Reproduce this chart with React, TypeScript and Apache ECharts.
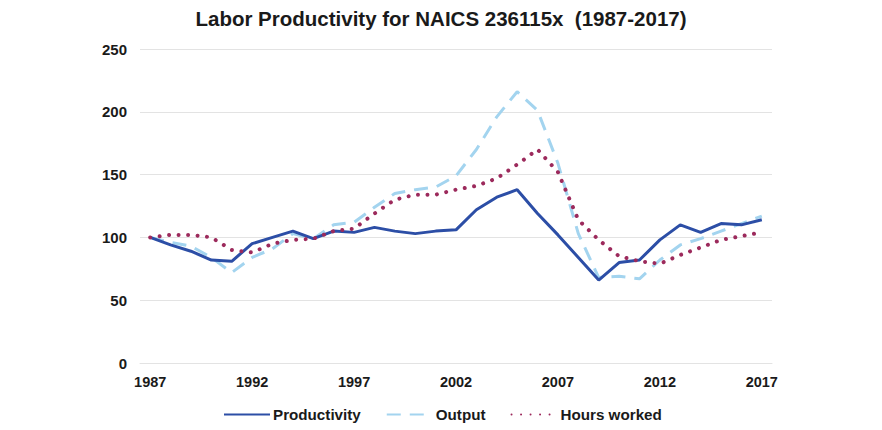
import React, { useEffect, useRef } from "react";
import * as echarts from "echarts";

const years: string[] = [];
for (let y = 1987; y <= 2017; y++) years.push(String(y));

const productivity = [100, 94, 89, 82, 81, 95, 100, 105, 99, 105, 104, 108, 105, 103, 105, 106, 122, 132, 138, 119, 102, 84, 66, 80, 82, 98, 110, 104, 111, 110, 114];
const output = [100, 96, 93, 84, 72, 84, 91, 103, 99, 110, 112, 124, 135, 138, 140, 149, 170, 196, 216, 201, 159, 103, 68, 69, 67, 82, 94, 99, 105, 111, 117];
const hoursWorked = [100, 102, 102, 100, 90, 88, 95, 98, 99, 105, 107, 119, 130, 134, 134, 138, 141, 147, 158, 170, 152, 114, 98, 85, 81, 79, 86, 92, 98, 101, 104];

const yTicks = { min: 0, max: 250, interval: 50 };

export default function App() {
  const ref = useRef<HTMLDivElement>(null);
  useEffect(() => {
    const chart = echarts.init(ref.current!, null, { renderer: "svg" });
    const font = "Liberation Sans, Arial, sans-serif";
    chart.setOption({
      animation: false,
      backgroundColor: "#ffffff",
      title: {
        text: "Labor Productivity for NAICS 236115x  (1987-2017)",
        left: "center",
        top: 0,
        padding: 0,
        textStyle: { fontFamily: font, fontWeight: "bold", fontSize: 20.5, color: "#1a1a1a" },
      },
      legend: {
        bottom: 3,
        left: 210,
        itemWidth: 46,
        itemHeight: 10,
        itemGap: 25,
        itemStyle: { opacity: 0 },
        textStyle: { fontFamily: font, fontWeight: "bold", fontSize: 15.2, color: "#1a1a1a", padding: [0, 0, 0, -2] },
        data: ["Productivity", "Output", "Hours worked"],
      },
      grid: { left: 132, right: 102, top: 41, bottom: 67, containLabel: false },
      xAxis: {
        type: "category",
        data: years,
        boundaryGap: true,
        axisLine: { show: true, lineStyle: { color: "#e3e3e3", width: 1 } },
        axisTick: { show: false },
        axisLabel: {
          interval: 4,
          fontFamily: font,
          fontWeight: "bold",
          fontSize: 14.5,
          color: "#1a1a1a",
          margin: 11,
        },
      },
      yAxis: {
        type: "value",
        min: yTicks.min,
        max: yTicks.max,
        interval: yTicks.interval,
        axisLine: { show: false },
        axisTick: { show: false },
        splitLine: { lineStyle: { color: "#e3e3e3", width: 1 } },
        axisLabel: { fontFamily: font, fontWeight: "bold", fontSize: 15, color: "#1a1a1a", margin: 13 },
      },
      series: [
        {
          name: "Productivity",
          type: "line",
          data: productivity,
          symbol: "none",
          color: "#2c4ea6",
          lineStyle: { width: 3, color: "#2c4ea6" },
          z: 3,
        },
        {
          name: "Output",
          type: "line",
          data: output,
          symbol: "none",
          color: "#a3d4ef",
          lineStyle: { width: 3, color: "#a3d4ef", type: [14, 9] },
          z: 2,
        },
        {
          name: "Hours worked",
          type: "line",
          data: hoursWorked,
          symbol: "none",
          color: "#9c2a5c",
          lineStyle: { width: 4, color: "#9c2a5c", type: [0.01, 9.5], cap: "round" },
          z: 4,
        },
      ],
    });
    return () => chart.dispose();
  }, []);
  return <div ref={ref} style={{ width: 866, height: 422 }} />;
}
